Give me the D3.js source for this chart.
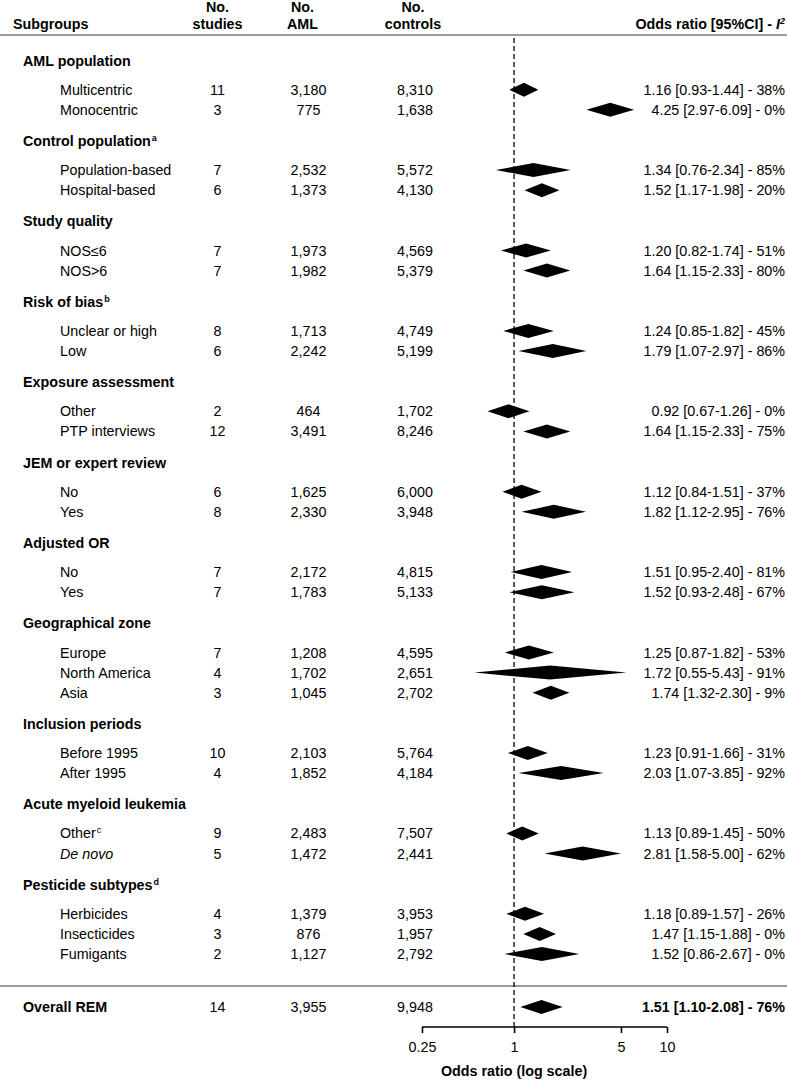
<!DOCTYPE html>
<html><head><meta charset="utf-8">
<script src="https://cdn.jsdelivr.net/npm/d3@7/dist/d3.min.js"></script>
<style>
body{margin:0;background:#fff}
svg{display:block}
text{font-family:"Liberation Sans",Arial,Helvetica,sans-serif;fill:#000}
</style>
</head><body>
<svg id="chart" width="787" height="1081"></svg>
<script>
// ---------------- DATA ----------------
const groupNames = ["AML population","Control population","Study quality","Risk of bias","Exposure assessment","JEM or expert review","Adjusted OR","Geographical zone","Inclusion periods","Acute myeloid leukemia","Pesticide subtypes"];
const groupSup   = ["","a","","b","","","","","","","d"];
const groupSizes = [2,2,2,2,2,2,2,3,2,2,3];

const subgroups  = ["Multicentric","Monocentric","Population-based","Hospital-based","NOS≤6","NOS>6","Unclear or high","Low","Other","PTP interviews","No","Yes","No","Yes","Europe","North America","Asia","Before 1995","After 1995","Other","De novo","Herbicides","Insecticides","Fumigants"];
const subgroupSup = ["","","","","","","","","","","","","","","","","","","","c","","","",""];
const nStudies   = [11,3,7,6,7,7,8,6,2,12,6,8,7,7,7,4,3,10,4,9,5,4,3,2];
const nAML       = [3180,775,2532,1373,1973,1982,1713,2242,464,3491,1625,2330,2172,1783,1208,1702,1045,2103,1852,2483,1472,1379,876,1127];
const nControls  = [8310,1638,5572,4130,4569,5379,4749,5199,1702,8246,6000,3948,4815,5133,4595,2651,2702,5764,4184,7507,2441,3953,1957,2792];
const oddsRatio  = [1.16,4.25,1.34,1.52,1.20,1.64,1.24,1.79,0.92,1.64,1.12,1.82,1.51,1.52,1.25,1.72,1.74,1.23,2.03,1.13,2.81,1.18,1.47,1.52];
const ciLow      = [0.93,2.97,0.76,1.17,0.82,1.15,0.85,1.07,0.67,1.15,0.84,1.12,0.95,0.93,0.87,0.55,1.32,0.91,1.07,0.89,1.58,0.89,1.15,0.86];
const ciHigh     = [1.44,6.09,2.34,1.98,1.74,2.33,1.82,2.97,1.26,2.33,1.51,2.95,2.40,2.48,1.82,5.43,2.30,1.66,3.85,1.45,5.00,1.57,1.88,2.67];
const i2         = [38,0,85,20,51,80,45,86,0,75,37,76,81,67,53,91,9,31,92,50,62,26,0,0];

const overallLabel = "Overall REM";
const overallStudies = 14, overallAML = 3955, overallControls = 9948;
const overallOR = 1.51, overallLow = 1.10, overallHigh = 2.08, overallI2 = 76;

const axisTicks = [0.25, 1, 5, 10];
const axisTitle = "Odds ratio (log scale)";

// ---------------- LAYOUT ----------------
const W = 787, H = 1081, FS = 14.3;
const svg = d3.select("#chart");
const x = d3.scaleLog().domain([0.25, 10]).range([422, 667]);
const colStudies = 217.5, colAML = 308.5, colCtrl = 415, colRight = 785;
const unit = 20.1, firstItemY = 89.7, gapBefore = 1.45 * unit, gapAfter = 1.55 * unit;
const diamondH = 14;
const fmtN = d3.format(",");
const fmt2 = d => d.toFixed(2);

// compute row centres
const headerRows = [], itemRows = [];
let cy = firstItemY - gapBefore, idx = 0;
groupNames.forEach((g, gi) => {
  headerRows.push({name: g, sup: groupSup[gi], y: cy});
  let y = cy + gapBefore;
  for (let k = 0; k < groupSizes[gi]; k++) {
    itemRows.push({i: idx, y: y});
    idx++;
    if (k < groupSizes[gi] - 1) y += unit;
  }
  cy = y + gapAfter;
});

const headerLineY = 35, sepLineY = 986, overallY = 1007, axisY = 1027;

// header
const hdr = svg.append("g").attr("font-weight", "bold").attr("font-size", FS);
hdr.append("text").attr("x", 13).attr("y", 29).text("Subgroups");
[[colStudies, "No.", "studies"], [colAML - 6, "No.", "AML"], [colCtrl - 2, "No.", "controls"]].forEach(([cx, a, b]) => {
  hdr.append("text").attr("x", cx).attr("y", 12).attr("text-anchor", "middle").text(a);
  hdr.append("text").attr("x", cx).attr("y", 29).attr("text-anchor", "middle").text(b);
});
const orh = hdr.append("text").attr("x", colRight).attr("y", 29).attr("text-anchor", "end");
orh.append("tspan").text("Odds ratio [95%CI] - ");
orh.append("tspan").attr("font-style", "italic").text("I");
orh.append("tspan").attr("font-style", "italic").attr("font-size", 9).attr("dy", -5).text("2");

// rules
svg.append("line").attr("x1", 0).attr("x2", W).attr("y1", headerLineY).attr("y2", headerLineY)
  .attr("stroke", "#7a7a7a").attr("stroke-width", 1.6);
svg.append("line").attr("x1", 0).attr("x2", W).attr("y1", sepLineY).attr("y2", sepLineY)
  .attr("stroke", "#7a7a7a").attr("stroke-width", 1.6);

// reference line at OR = 1
svg.append("line").attr("x1", x(1)).attr("x2", x(1)).attr("y1", headerLineY + 3).attr("y2", axisY)
  .attr("stroke", "#000").attr("stroke-width", 1.3).attr("stroke-dasharray", "5,3");

// group headers
headerRows.forEach(h => {
  const t = svg.append("text").attr("x", 23).attr("y", h.y).attr("dy", "0.35em")
    .attr("font-weight", "bold").attr("font-size", FS);
  t.append("tspan").text(h.name);
  if (h.sup) t.append("tspan").attr("font-size", 9).attr("dy", -5).attr("dx", 1).text(h.sup);
});

function diamond(lo, mid, hi, y, h) {
  return `M${x(lo)},${y}L${x(mid)},${y - h / 2}L${x(hi)},${y}L${x(mid)},${y + h / 2}Z`;
}

// subgroup rows
itemRows.forEach(r => {
  const i = r.i, y = r.y;
  const t = svg.append("text").attr("x", 60).attr("y", y).attr("dy", "0.35em").attr("font-size", FS);
  if (subgroups[i] === "De novo") t.attr("font-style", "italic");
  t.append("tspan").text(subgroups[i]);
  if (subgroupSup[i]) t.append("tspan").attr("font-size", 9).attr("dy", -5).attr("dx", 1).text(subgroupSup[i]);
  svg.append("text").attr("x", colStudies).attr("y", y).attr("dy", "0.35em").attr("text-anchor", "middle").attr("font-size", FS).text(nStudies[i]);
  svg.append("text").attr("x", colAML).attr("y", y).attr("dy", "0.35em").attr("text-anchor", "middle").attr("font-size", FS).text(fmtN(nAML[i]));
  svg.append("text").attr("x", colCtrl).attr("y", y).attr("dy", "0.35em").attr("text-anchor", "middle").attr("font-size", FS).text(fmtN(nControls[i]));
  svg.append("path").attr("d", diamond(ciLow[i], oddsRatio[i], ciHigh[i], y, diamondH)).attr("fill", "#000");
  svg.append("text").attr("x", colRight).attr("y", y).attr("dy", "0.35em").attr("text-anchor", "end").attr("font-size", FS)
    .text(`${fmt2(oddsRatio[i])} [${fmt2(ciLow[i])}-${fmt2(ciHigh[i])}] - ${i2[i]}%`);
});

// overall row
svg.append("text").attr("x", 23).attr("y", overallY).attr("dy", "0.35em").attr("font-weight", "bold").attr("font-size", FS).text(overallLabel);
svg.append("text").attr("x", colStudies).attr("y", overallY).attr("dy", "0.35em").attr("text-anchor", "middle").attr("font-size", FS).text(overallStudies);
svg.append("text").attr("x", colAML).attr("y", overallY).attr("dy", "0.35em").attr("text-anchor", "middle").attr("font-size", FS).text(fmtN(overallAML));
svg.append("text").attr("x", colCtrl).attr("y", overallY).attr("dy", "0.35em").attr("text-anchor", "middle").attr("font-size", FS).text(fmtN(overallControls));
svg.append("path").attr("d", diamond(overallLow, overallOR, overallHigh, overallY, diamondH)).attr("fill", "#000");
svg.append("text").attr("x", colRight).attr("y", overallY).attr("dy", "0.35em").attr("text-anchor", "end").attr("font-weight", "bold").attr("font-size", FS)
  .text(`${fmt2(overallOR)} [${fmt2(overallLow)}-${fmt2(overallHigh)}] - ${overallI2}%`);

// axis
const axis = d3.axisBottom(x).tickValues(axisTicks).tickFormat(d => String(d)).tickSize(6).tickSizeOuter(0).tickPadding(9);
const ag = svg.append("g").attr("transform", `translate(0,${axisY})`).call(axis);
ag.select(".domain").attr("stroke", "#000").attr("stroke-width", 1.6).attr("d", `M${x(0.25)},0H${x(10)}`);
ag.selectAll(".tick line").attr("stroke", "#000").attr("stroke-width", 1.6);
ag.selectAll(".tick text").attr("font-size", FS).attr("font-family", "Liberation Sans, Arial, sans-serif").attr("fill", "#000");
svg.append("text").attr("x", x(1)).attr("y", 1076).attr("text-anchor", "middle").attr("font-weight", "bold").attr("font-size", FS).text(axisTitle);
</script>
</body></html>
